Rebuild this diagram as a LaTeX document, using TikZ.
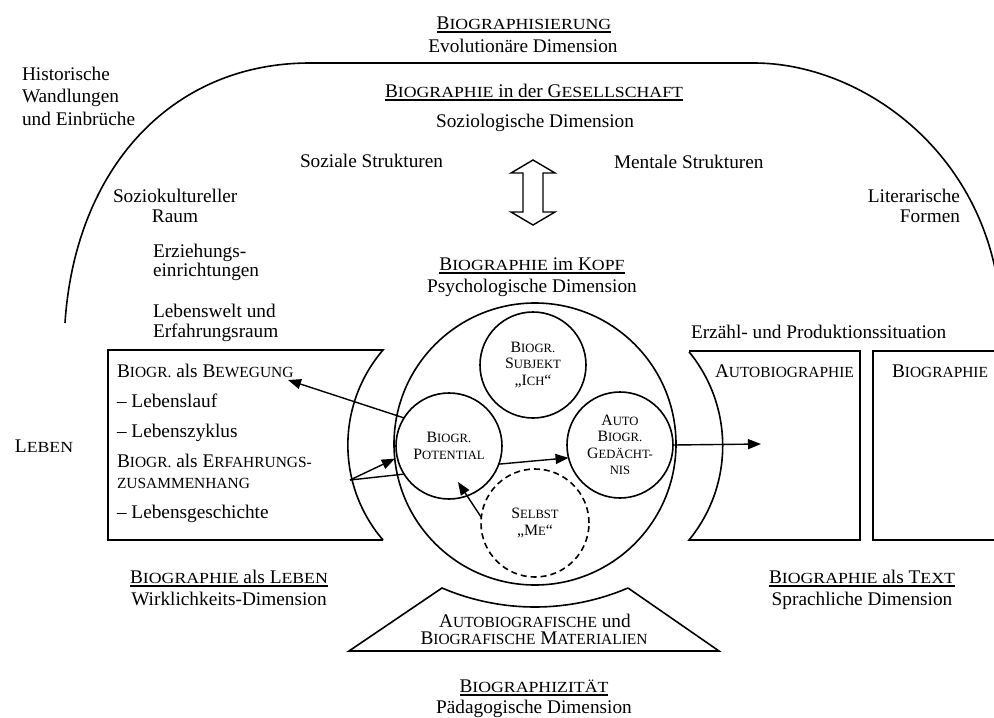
\documentclass[tikz,border=0pt]{standalone}
\usepackage{fontspec}
\setmainfont{Liberation Serif}
\newfontfamily\scf[FakeStretch=1.15,Scale=0.8]{Liberation Serif}
\newfontfamily\scn[Scale=0.8]{Liberation Serif}
\usetikzlibrary{arrows.meta}
\newcommand\mainsz{\fontsize{19.3}{22.5}\selectfont}
\newcommand\circsz{\fontsize{15.8}{16.5}\selectfont}
\newcommand\uln[1]{\setbox0\hbox{#1}\rlap{\rule[-3.5pt]{\wd0}{1.2pt}}\box0}
\begin{document}
\begin{tikzpicture}[x=1pt,y=1pt,
  line width=1.6pt,
  every node/.style={font=\mainsz, inner sep=0pt, outer sep=0pt},
  txt/.style={anchor=base west},
  ctxt/.style={anchor=base},
  rtxt/.style={anchor=base east},
  ring/.style={circle, draw, minimum size=106pt, inner sep=0pt, font=\circsz, align=center},
  arr/.style={-{Triangle[length=13pt,width=10pt]}, line width=1.4pt},
  conn/.style={line width=1.4pt},
]
\clip (0,0) rectangle (994,-718);
% big outer arc
\draw (65,-323) .. controls (75,-170) and (170,-63) .. (310,-63) -- (754,-63)
      .. controls (860,-63) and (985,-150) .. (1000,-300);
% double arrow
\draw[line width=1.4pt] (533,-160) -- (555,-173) -- (543,-173) -- (543,-212) -- (555,-212) -- (533,-225)
  -- (511,-212) -- (523,-212) -- (523,-173) -- (511,-173) -- cycle;
% left box
\draw (383,-540) -- (108,-540) -- (108,-350) -- (383,-350) arc[start angle=139.4, end angle=220.6, radius=146pt];
% right boxes
\draw (689,-351) -- (860,-351) -- (860,-540) -- (689,-540) arc[start angle=-39.4, end angle=39.4, radius=148.3pt];
\draw (994,-351) -- (873,-351) -- (873,-540) -- (994,-540);
% trapezoid
\draw (628,-588) -- (719,-651) -- (349,-651) -- (442,-588) arc[start angle=246.9, end angle=293.1, radius=237pt];
% big circle
\node[circle, draw, minimum size=282pt] (big) at (535,-444) {};
% inner circles
\node[ring] (subj) at (533,-365) {B{\scn IOGR.}\\S{\scn UBJEKT}\\„I{\scn CH}“};
\node[ring] (pot) at (449,-446) {B{\scn IOGR.}\\P{\scn OTENTIAL}};
\node[ring] (ged) at (620,-445) {A{\scn UTO}\\B{\scn IOGR.}\\G{\scn EDÄCHT-}\\{\scn NIS}};
\node[ring, dashed, dash pattern=on 6pt off 4pt, minimum size=108pt] (selbst) at (535,-523) {S{\scn ELBST}\\„M{\scn E}“};
% free ends
\coordinate (bew) at (288,-380);
\coordinate (erf) at (350,-480);
\coordinate (txt) at (761,-444);
\coordinate (inpot) at (458,-482);
% connectors
\draw[arr] (pot.148) -- (bew);
\draw[arr] (erf) -- (big.186);
\draw[conn] (erf) -- (pot.212);
\draw[arr] (pot.-20) -- (ged.194);
\draw[arr] (selbst.174) -- (inpot);
\draw[arr] (ged.east) -- (txt);
% top texts
\node[ctxt] (t1) at (524,-29) {\uln{B{\scf IOGRAPHISIERUNG}}};
\node[ctxt] (t1b) at (523,-52) {Evolutionäre Dimension};
\node[ctxt] (t2) at (534,-97) {\uln{B{\scf IOGRAPHIE} in der G{\scf ESELLSCHAFT}}};
\node[ctxt] (t2b) at (535,-127) {Soziologische Dimension};
\node[txt] (h1) at (22,-80) {Historische};
\node[txt] (h2) at (22,-102) {Wandlungen};
\node[txt] (h3) at (22,-125) {und Einbrüche};
\node[txt] (soz) at (300,-167) {Soziale Strukturen};
\node[txt] (men) at (614,-168) {Mentale Strukturen};
\node[txt] (sk1) at (113,-202) {Soziokultureller};
\node[ctxt] (sk2) at (175,-222) {Raum};
\node[rtxt] (lf1) at (960,-202) {Literarische};
\node[rtxt] (lf2) at (960,-222) {Formen};
\node[txt] (ez1) at (153,-257) {Erziehungs-};
\node[txt] (ez2) at (153,-276) {einrichtungen};
\node[txt] (lw1) at (153,-317) {Lebenswelt und};
\node[txt] (lw2) at (153,-337) {Erfahrungsraum};
\node[ctxt] (t3) at (532,-270) {\uln{B{\scf IOGRAPHIE} im K{\scf OPF}}};
\node[ctxt] (t3b) at (532,-292) {Psychologische Dimension};
\node[txt] (eps) at (691,-338) {Erzähl- und Produktionssituation};
% left box texts
\node[txt] (lb1) at (117,-377) {B{\scn IOGR.} als B{\scn EWEGUNG}};
\node[txt] (lb2) at (117,-407) {– Lebenslauf};
\node[txt] (lb3) at (117,-437) {– Lebenszyklus};
\node[txt] (lb4) at (117,-467) {B{\scn IOGR.} als E{\scn RFAHRUNGS-}};
\node[txt] (lb5) at (117,-488) {{\scn ZUSAMMENHANG}};
\node[txt] (lb6) at (117,-518) {– Lebensgeschichte};
\node[txt] (leb) at (15,-452) {L{\scf EBEN}};
% right box texts
\node[txt] (ab) at (715,-377) {A{\scn UTOBIOGRAPHIE}};
\node[txt] (bi) at (892,-377) {B{\scn IOGRAPHIE}};
% bottom texts
\node[ctxt] (t4) at (229,-583) {\uln{B{\scf IOGRAPHIE} als L{\scf EBEN}}};
\node[ctxt] (t4b) at (229,-605) {Wirklichkeits-Dimension};
\node[ctxt] (t5) at (862,-583) {\uln{B{\scf IOGRAPHIE} als T{\scf EXT}}};
\node[ctxt] (t5b) at (862,-605) {Sprachliche Dimension};
\node[ctxt] (tr1) at (535,-627) {A{\scn UTOBIOGRAFISCHE} und};
\node[ctxt] (tr2) at (534,-644) {B{\scn IOGRAFISCHE} M{\scn ATERIALIEN}};
\node[ctxt] (t6) at (534,-692) {\uln{B{\scf IOGRAPHIZITÄT}}};
\node[ctxt] (t6b) at (534,-713) {Pädagogische Dimension};
\end{tikzpicture}
\end{document}
